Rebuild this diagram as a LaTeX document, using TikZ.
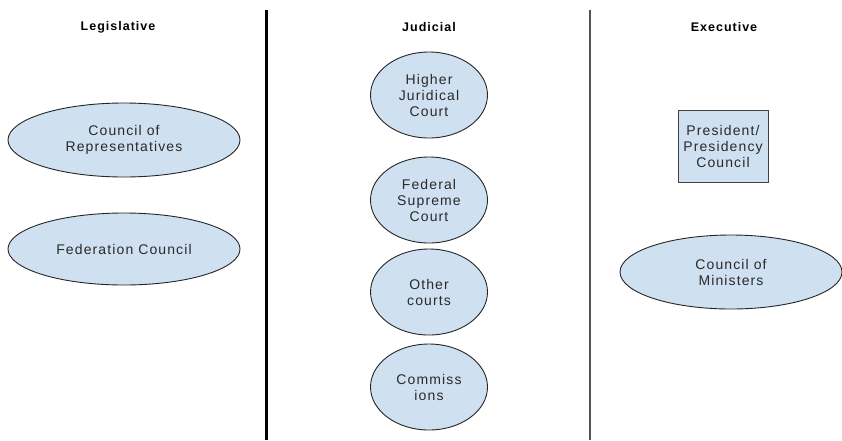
\documentclass[tikz,border=0pt]{standalone}
\usepackage{fontspec}
\setmainfont{Liberation Sans}[LetterSpace=8]
\usetikzlibrary{shapes.geometric}

\definecolor{bodyfill}{HTML}{CFE0F0}
\definecolor{bodytext}{HTML}{2A2A2A}

\tikzset{
  branch/.style={font=\fontsize{12.5}{14}\selectfont\bfseries},
  organ/.style={ellipse, draw=black!85, line width=0.9pt, fill=bodyfill,
    inner sep=0pt, align=center, text=bodytext,
    font=\fontsize{14}{16}\selectfont},
  office/.style={rectangle, draw=black!75, line width=1pt, fill=bodyfill,
    inner sep=0pt, align=center, text=bodytext,
    font=\fontsize{14}{16}\selectfont}
}

\begin{document}
\begin{tikzpicture}[x=1pt, y=-1pt]
  \useasboundingbox (0, 0) rectangle (842, 440);

  % branch headings
  \node[branch] (legis) at (118, 27) {Legislative};
  \node[branch] (judic) at (429, 27) {Judicial};
  \node[branch] (exec) at (724, 27) {Executive};

  % separators
  \draw[line width=3pt] (266, 10) -- (266, 440);
  \draw[line width=2.5pt, color=black!68] (590, 10) -- (590, 440);

  % legislative
  \node[organ, minimum width=232, minimum height=74] (cor) at (124, 140)
    {Council of\\Representatives};
  \node[organ, minimum width=232, minimum height=72] (fedc) at (124, 249)
    {Federation Council};

  % judicial
  \foreach \name/\y/\txt in {hjc/95/{Higher\\Juridical\\Court},
                             fsc/200/{Federal\\Supreme\\Court},
                             oth/292/{Other\\courts},
                             com/387/{Commiss\\ions}}
    \node[organ, minimum width=117, minimum height=86] (\name) at (429, \y) {\txt};

  % executive
  \node[office, minimum width=90, minimum height=72] (pres) at (723, 146)
    {President/\\Presidency\\Council};
  \node[organ, minimum width=222, minimum height=74] (mins) at (731, 272)
    {Council of\\Ministers};

\end{tikzpicture}
\end{document}
